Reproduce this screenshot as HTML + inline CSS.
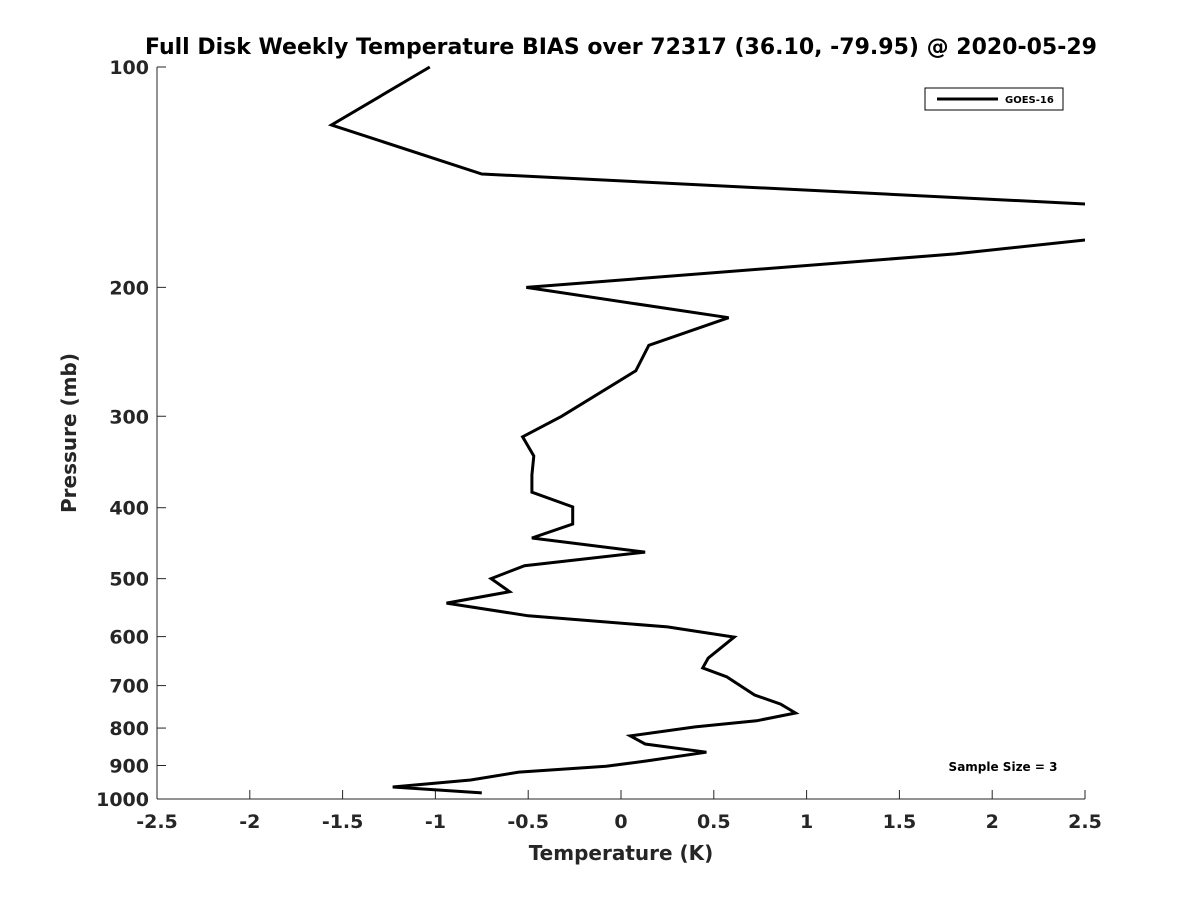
<!DOCTYPE html>
<html><head><meta charset="utf-8"><style>
html,body{margin:0;padding:0;background:#fff;}
svg text{font-family:"DejaVu Sans","Liberation Sans",sans-serif;font-weight:bold;fill:#262626;}
</style></head><body>
<svg id="chart" width="1200" height="900" xmlns="http://www.w3.org/2000/svg">
<defs><clipPath id="clip"><rect x="150" y="60" width="935" height="741"/></clipPath></defs>
<text x="621" y="54" text-anchor="middle" font-size="22" style="fill:#000">Full Disk Weekly Temperature BIAS over 72317 (36.10, -79.95) @ 2020-05-29</text>
<g id="axes"></g>
<g id="series" clip-path="url(#clip)"></g>
<text x="621" y="860" text-anchor="middle" font-size="20">Temperature (K)</text>
<text transform="translate(76,433) rotate(-90)" text-anchor="middle" font-size="20">Pressure (mb)</text>
<g>
<rect x="925" y="88" width="138" height="22" fill="#fff" stroke="#000" stroke-width="1"/>
<line x1="937" y1="99" x2="998" y2="99" stroke="#000" stroke-width="3"/>
<text x="1005" y="103" font-size="10" style="fill:#000">GOES-16</text>
</g>
<text x="1003" y="771" text-anchor="middle" font-size="12" style="fill:#000">Sample Size = 3</text>
</svg>
<script>
const xTicks = [-2.5,-2,-1.5,-1,-0.5,0,0.5,1,1.5,2,2.5];
const xTickLabels = ["-2.5","-2","-1.5","-1","-0.5","0","0.5","1","1.5","2","2.5"];
const yTicks = [100,200,300,400,500,600,700,800,900,1000];
const yTickLabels = ["100","200","300","400","500","600","700","800","900","1000"];
const pressures = [100,120,140,157,165,180,200,220,240,260,300,320,340,361,381,399,421,440,460,480,500,521,540,562,582,601,624,642,662,681,721,742,763,782,797,820,841,863,887,902,919,942,963,981];
const biasValues = [-1.03,-1.56,-0.75,3.2,3.2,1.80,-0.51,0.58,0.15,0.08,-0.32,-0.53,-0.47,-0.48,-0.48,-0.26,-0.26,-0.48,0.13,-0.52,-0.70,-0.60,-0.94,-0.50,0.25,0.61,0.53,0.47,0.44,0.57,0.72,0.86,0.94,0.73,0.40,0.05,0.13,0.46,0.14,-0.08,-0.55,-0.81,-1.23,-0.75];

const X0=157,X1=1085,Y0=67,Y1=799;
function xs(v){return X0+(v+2.5)/5*(X1-X0);}
function ys(p){return Y0+Math.log10(p/100)*(Y1-Y0);}
const NS="http://www.w3.org/2000/svg";
const axes=document.getElementById('axes');
function mk(tag,attrs,parent){const e=document.createElementNS(NS,tag);for(const k in attrs)e.setAttribute(k,attrs[k]);parent.appendChild(e);return e;}
const xl=mk('line',{x1:X0,y1:Y1,x2:X1,y2:Y1,stroke:'#262626','stroke-width':1},axes);


const yl=mk('line',{x1:X0,y1:Y0,x2:X0,y2:Y1,stroke:'#262626','stroke-width':1},axes);


xTicks.forEach((t,i)=>{
  const x=xs(t);
  const tk=mk('line',{x1:x,y1:Y1,x2:x,y2:Y1-9,stroke:'#262626','stroke-width':1},axes);
  
  
  const tx=mk('text',{x:x,y:Y1+29,'text-anchor':'middle','font-size':19},axes);
  
  
  tx.textContent=xTickLabels[i];
});
yTicks.forEach((t,i)=>{
  const y=ys(t);
  const tk=mk('line',{x1:X0,y1:y,x2:X0+9,y2:y,stroke:'#262626','stroke-width':1},axes);
  
  
  const tx=mk('text',{x:X0-8,y:y+7,'text-anchor':'end','font-size':19},axes);
  
  
  tx.textContent=yTickLabels[i];
});
const pts=pressures.map((p,i)=>xs(biasValues[i]).toFixed(1)+','+ys(p).toFixed(1)).join(' ');
const pl=mk('polyline',{points:pts,fill:'none',stroke:'#000','stroke-width':3,'stroke-linejoin':'miter'},document.getElementById('series'));


</script>
</body></html>
